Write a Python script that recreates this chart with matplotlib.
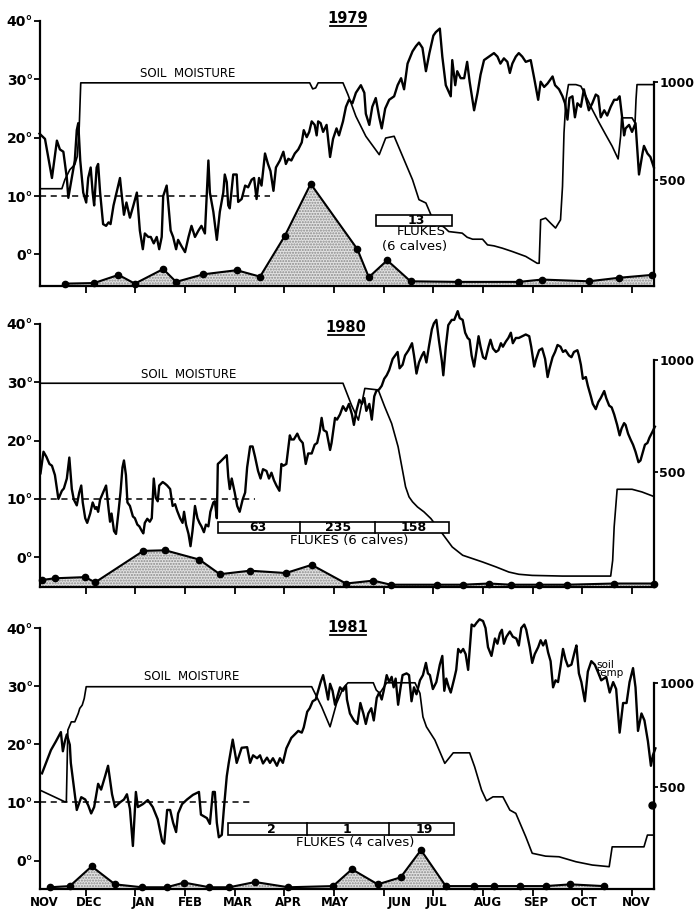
import matplotlib
matplotlib.use("Agg")
import matplotlib.pyplot as plt
from matplotlib.patches import Rectangle

# x axis unit: months after 1 Nov (1 = 1 Dec, ..., 12 = 1 Nov next year)
month_names = ["NOV", "DEC", "JAN", "FEB", "MAR", "APR", "MAY",
               "JUN", "JUL", "AUG", "SEP", "OCT", "NOV"]
month_label_pos = [0.16, 1.07, 2.16, 3.10, 4.07, 5.08, 6.02,
                   7.32, 8.06, 9.09, 10.06, 11.03, 12.09]

# ---------------- 1979 ----------------
t79_x = [0.07, 0.18, 0.32, 0.42, 0.48, 0.55, 0.62, 0.65, 0.72, 0.78,
         0.82, 0.85, 0.89, 0.95, 1.01, 1.05, 1.10, 1.14, 1.17, 1.22,
         1.25, 1.29, 1.35, 1.41, 1.46, 1.50, 1.56, 1.62, 1.69, 1.72,
         1.77, 1.82, 1.89, 1.96, 2.03, 2.09, 2.15, 2.19, 2.26, 2.31,
         2.37, 2.43, 2.48, 2.53, 2.56, 2.63, 2.66, 2.71, 2.76, 2.82,
         2.86, 2.93, 3.00, 3.07, 3.13, 3.20, 3.27, 3.33, 3.40, 3.47,
         3.50, 3.57, 3.64, 3.70, 3.77, 3.80, 3.84, 3.87, 3.90, 3.97,
         4.04, 4.07, 4.14, 4.21, 4.27, 4.34, 4.39, 4.44, 4.49, 4.54,
         4.61, 4.67, 4.72, 4.78, 4.83, 4.91, 4.98, 5.03, 5.08, 5.14,
         5.21, 5.28, 5.35, 5.39, 5.45, 5.50, 5.55, 5.61, 5.65, 5.68,
         5.73, 5.78, 5.85, 5.92, 5.98, 6.05, 6.10, 6.18,
         6.24, 6.30, 6.37, 6.44, 6.54, 6.61, 6.64, 6.71, 6.77, 6.84,
         6.91, 6.96, 7.03, 7.11, 7.21, 7.28, 7.35, 7.41, 7.48, 7.58,
         7.65, 7.71, 7.78, 7.85, 7.92, 8.00, 8.05, 8.13, 8.18, 8.25,
         8.35, 8.38, 8.44, 8.48, 8.55, 8.62, 8.68, 8.73, 8.82, 8.89,
         8.95, 9.02, 9.12, 9.22, 9.29, 9.35, 9.42, 9.49, 9.54, 9.59,
         9.66, 9.72, 9.79, 9.86, 9.96, 10.03, 10.11, 10.16, 10.23, 10.30,
         10.40, 10.45, 10.53, 10.60, 10.65, 10.70, 10.74, 10.80, 10.85, 10.90,
         10.97, 11.03, 11.08, 11.13, 11.20, 11.27, 11.32, 11.37, 11.44, 11.50,
         11.57, 11.64, 11.70, 11.75, 11.80, 11.84, 11.87, 11.94, 12.00, 12.07,
         12.14, 12.21, 12.24, 12.31, 12.37, 12.44]
t79_y = [20.7, 19.8, 13.1, 19.5, 18.0, 17.6, 13.1, 9.7, 13.1, 16.1,
         21.3, 22.5, 16.1, 10.6, 8.9, 13.1, 14.9, 10.6, 8.4, 14.9,
         15.5, 10.6, 5.2, 4.9, 5.5, 5.2, 8.4, 10.6, 13.1, 10.6,
         6.8, 8.9, 6.3, 8.4, 10.6, 4.1, 0.9, 3.6, 3.0, 3.0,
         1.9, 3.0, 0.9, 3.0, 10.0, 11.8, 9.0, 4.1, 3.0, 0.9,
         2.5, 1.4, 0.4, 3.0, 4.9, 3.0, 4.1, 4.9, 3.6, 16.1,
         10.6, 7.3, 2.5, 7.3, 10.6, 13.7, 12.4, 8.4, 7.9, 13.7,
         13.7, 9.0, 9.5, 11.8, 11.5, 12.8, 13.1, 9.5, 13.1, 11.8,
         17.3, 15.5, 14.3, 10.9, 14.9, 16.1, 17.6, 15.5, 16.4, 16.1,
         17.3, 18.0, 19.2, 21.3, 20.1, 21.0, 22.8, 22.2, 20.4, 22.8,
         22.5, 21.0, 22.2, 16.7, 19.8, 21.6, 20.4, 22.8,
         25.3, 26.5, 25.9, 27.7, 29.0, 27.7, 24.1, 22.2, 25.3, 26.8,
         23.5, 21.6, 25.0, 26.5, 27.1, 29.0, 30.2, 28.3, 32.7, 34.8,
         35.7, 36.3, 35.4, 31.4, 34.5, 37.5, 38.1, 38.7, 33.9, 29.0,
         27.1, 33.3, 29.0, 31.4, 30.2, 30.2, 33.0, 29.6, 24.7, 27.7,
         30.8, 33.3, 33.9, 34.5, 33.9, 32.7, 33.6, 33.0, 31.1, 32.7,
         33.9, 34.5, 33.9, 33.0, 33.3, 30.2, 26.5, 29.6, 28.7, 29.3,
         30.5, 29.0, 28.3, 27.1, 25.9, 23.1, 26.8, 27.1, 23.5, 25.9,
         25.3, 28.3, 26.5, 24.7, 25.9, 27.4, 27.1, 23.5, 24.7, 23.8,
         25.3, 26.5, 26.5, 27.1, 23.5, 20.4, 21.6, 22.2, 21.0, 22.5,
         13.7, 17.3, 18.6, 17.3, 16.7, 14.9]

m79_x = [0.07, 0.52, 0.58, 0.68, 0.78, 0.83, 0.87, 0.90, 5.51, 5.57,
         5.63, 5.68, 6.18, 6.28, 6.44, 6.64, 6.91, 7.04, 7.21, 7.41,
         7.58, 7.71, 7.85, 7.95, 8.31, 8.58, 8.68, 8.79, 8.99, 9.09,
         9.22, 9.39, 9.59, 9.86, 10.09, 10.13, 10.16, 10.26, 10.36, 10.46,
         10.56, 10.60, 10.63, 10.67, 10.72, 10.87, 10.97, 11.07, 11.20, 11.34,
         11.47, 11.60, 11.72, 11.77, 11.79, 12.00, 12.06, 12.08, 12.10, 12.44]
m79_y = [454, 454, 500, 551, 577, 619, 773, 995, 995, 964,
         969, 995, 995, 935, 824, 722, 628, 713, 722, 602,
         500, 398, 381, 321, 235, 227, 206, 196, 196, 167,
         162, 150, 133, 108, 73, 73, 295, 304, 278, 253,
         295, 466, 739, 910, 986, 986, 978, 927, 858, 790,
         730, 671, 606, 722, 816, 816, 790, 910, 986, 986]

f79_x = [0.58, 1.17, 1.66, 1.99, 2.56, 2.82, 3.37, 4.04, 4.51, 5.01, 5.53,
         6.47, 6.70, 7.07, 7.54, 8.50, 9.72, 10.19, 11.13, 11.73, 12.41]
f79_y = [-5.0, -4.9, -3.5, -5.0, -2.5, -4.7, -3.4, -2.7, -3.8, 3.2, 12.1,
         0.9, -3.9, -1.0, -4.6, -4.7, -4.7, -4.3, -4.6, -4.0, -3.5]

box79_span = (6.84, 8.38)
box79_div = []
box79_counts = ["13"]
box79_count_x = [7.65]

# ---------------- 1980 ----------------
t80_x = [0.09, 0.15, 0.21, 0.27, 0.32, 0.38, 0.45, 0.52, 0.56, 0.62,
         0.67, 0.72, 0.76, 0.82, 0.87, 0.91, 0.94, 0.99, 1.03, 1.09,
         1.14, 1.19, 1.22, 1.25, 1.29, 1.35, 1.41, 1.46, 1.49, 1.52,
         1.57, 1.61, 1.66, 1.70, 1.74, 1.77, 1.81, 1.84, 1.89, 1.95,
         1.99, 2.04, 2.08, 2.13, 2.16, 2.19, 2.24, 2.29, 2.33, 2.37,
         2.41, 2.45, 2.48, 2.55, 2.60, 2.64, 2.70, 2.75, 2.80, 2.84,
         2.90, 2.95, 2.98, 3.02, 3.07, 3.11, 3.15, 3.20, 3.25, 3.29,
         3.33, 3.38, 3.42, 3.47, 3.51, 3.57, 3.60, 3.64, 3.66, 3.70,
         3.77, 3.84, 3.87, 3.90, 3.94, 3.97, 4.00, 4.05, 4.10, 4.16,
         4.21, 4.25, 4.31, 4.36, 4.41, 4.47, 4.52, 4.57, 4.64, 4.69,
         4.74, 4.79, 4.84, 4.90, 4.94, 4.98, 5.04, 5.11, 5.14, 5.19,
         5.26, 5.31, 5.37, 5.43, 5.48, 5.55, 5.61, 5.66, 5.71, 5.75,
         5.79, 5.85, 5.92, 5.95, 6.02, 6.06, 6.12, 6.18,
         6.24, 6.30, 6.36, 6.40, 6.45, 6.51, 6.56, 6.61, 6.65, 6.71,
         6.76, 6.81, 6.85, 6.91, 6.96, 7.01, 7.06, 7.11, 7.18, 7.23,
         7.28, 7.32, 7.38, 7.43, 7.50, 7.57, 7.61, 7.66, 7.71, 7.77,
         7.81, 7.86, 7.91, 7.97, 8.01, 8.06, 8.11, 8.17, 8.20, 8.25,
         8.30, 8.37, 8.42, 8.49, 8.53, 8.59, 8.64, 8.69, 8.73, 8.77,
         8.82, 8.87, 8.91, 8.95, 9.00, 9.05, 9.11, 9.15, 9.20, 9.26,
         9.31, 9.36, 9.40, 9.46, 9.51, 9.56, 9.60, 9.66, 9.72, 9.79,
         9.86, 9.93, 9.97, 10.03, 10.07, 10.13, 10.19, 10.25, 10.30, 10.34,
         10.40, 10.45, 10.50, 10.56, 10.61, 10.66, 10.73, 10.78, 10.83, 10.90,
         10.93, 10.97, 11.01, 11.07, 11.11, 11.17, 11.21, 11.27, 11.32, 11.37,
         11.44, 11.48, 11.54, 11.59, 11.64, 11.70, 11.75, 11.79, 11.84, 11.87,
         11.92, 11.97, 12.02, 12.07, 12.13, 12.17, 12.22, 12.26, 12.31, 12.35,
         12.41, 12.46]
t80_y = [14.4, 18.1, 17.2, 16.0, 15.7, 14.1, 10.0, 11.4, 11.8, 13.5,
         17.1, 11.7, 9.9, 8.9, 11.1, 12.3, 9.4, 6.7, 5.9, 7.5,
         9.4, 8.3, 8.6, 7.8, 9.9, 11.1, 12.3, 8.3, 6.1, 7.5,
         4.5, 4.0, 7.8, 11.1, 15.4, 16.6, 14.1, 9.4, 8.8, 7.0,
         6.7, 5.6, 5.3, 4.5, 4.1, 5.9, 6.6, 6.1, 6.7, 13.5,
         10.2, 9.6, 12.3, 12.9, 12.6, 12.3, 11.7, 8.8, 9.1, 8.0,
         6.7, 5.9, 7.8, 5.6, 4.0, 1.9, 4.5, 8.8, 6.7, 5.9,
         5.3, 4.3, 5.6, 5.3, 7.8, 9.4, 9.6, 6.7, 16.0, 16.3,
         16.9, 17.5, 13.8, 11.7, 13.5, 12.3, 11.1, 8.8, 7.8, 9.9,
         11.1, 15.4, 19.0, 19.0, 17.2, 14.8, 13.5, 15.1, 14.8, 13.5,
         14.5, 13.2, 12.3, 11.4, 16.0, 15.7, 16.0, 20.9, 20.2, 20.2,
         21.2, 20.2, 19.6, 16.0, 17.8, 17.8, 19.3, 19.6, 21.5, 23.9,
         21.8, 21.5, 18.4, 19.6, 23.9, 23.6, 24.5, 25.9,
         25.1, 26.3, 24.5, 22.7, 25.1, 27.0, 26.3, 27.3, 25.1, 26.3,
         23.6, 27.6, 28.5, 28.8, 29.4, 30.6, 31.2, 32.1, 34.0, 34.6,
         35.2, 32.4, 33.0, 34.6, 35.5, 36.7, 34.6, 31.5, 33.4, 34.6,
         35.2, 33.4, 36.1, 39.1, 40.1, 40.7, 37.3, 33.7, 31.2, 36.1,
         39.8, 40.7, 40.7, 42.2, 41.0, 40.7, 38.5, 37.6, 37.3, 34.6,
         32.7, 35.5, 37.9, 36.1, 34.3, 34.0, 36.1, 37.3, 35.8, 35.2,
         35.5, 36.7, 36.1, 37.0, 37.6, 38.5, 36.7, 37.6, 37.6, 37.9,
         38.2, 37.9, 36.1, 32.7, 34.0, 35.5, 35.8, 34.0, 30.9, 32.4,
         34.3, 35.2, 36.4, 36.1, 35.2, 35.5, 34.6, 34.3, 35.2, 35.5,
         34.6, 33.0, 30.6, 30.9, 29.4, 27.6, 26.3, 25.4, 26.6, 27.3,
         28.5, 27.3, 26.0, 25.7, 24.5, 22.7, 20.9, 22.1, 23.0, 22.7,
         21.2, 20.2, 19.3, 18.1, 16.3, 16.6, 18.1, 19.3, 19.6, 20.5,
         21.5, 22.4]

m80_x = [0.09, 6.18, 6.35, 6.49, 6.62, 6.89, 7.02, 7.16, 7.29, 7.39,
         7.44, 7.51, 7.58, 7.68, 7.81, 7.95, 8.18, 8.38, 8.59, 8.79,
         8.99, 9.26, 9.52, 9.72, 9.99, 10.60, 11.57, 11.61, 11.64, 11.70,
         12.00, 12.20, 12.46]
m80_y = [896, 896, 799, 731, 873, 866, 791, 716, 612, 493,
         433, 388, 366, 343, 321, 291, 224, 164, 127, 112,
         97, 75, 52, 42, 37, 34, 34, 104, 254, 422,
         422, 410, 388]

f80_x = [0.11, 0.38, 0.99, 1.19, 2.16, 2.60, 3.29, 3.70, 4.31, 5.03, 5.55,
         6.24, 6.79, 7.14, 8.08, 8.59, 9.12, 9.56, 10.13, 10.70, 11.64, 12.44]
f80_y = [-3.9, -3.6, -3.4, -4.3, 1.1, 1.2, -0.4, -2.9, -2.3, -2.7, -1.3,
         -4.5, -4.0, -4.7, -4.7, -4.7, -4.5, -4.7, -4.7, -4.7, -4.5, -4.5]

box80_span = (3.66, 8.31)
box80_div = [5.31, 6.82]
box80_counts = ["63", "235", "158"]
box80_count_x = [4.47, 6.08, 7.61]

# ---------------- 1981 ----------------
t81_x = [0.12, 0.30, 0.40, 0.50, 0.54, 0.58, 0.62, 0.68, 0.70, 0.78,
         0.82, 0.91, 0.99, 1.05, 1.11, 1.17, 1.25, 1.31, 1.39, 1.45,
         1.53, 1.59, 1.69, 1.77, 1.83, 1.89, 1.95, 2.01, 2.05, 2.15,
         2.25, 2.35, 2.45, 2.54, 2.58, 2.64, 2.70, 2.76, 2.82, 2.86,
         2.94, 3.04, 3.16, 3.28, 3.32, 3.44, 3.50, 3.56, 3.60, 3.64,
         3.68, 3.74, 3.78, 3.84, 3.88, 3.96, 4.04, 4.14, 4.25, 4.31,
         4.37, 4.45, 4.51, 4.57, 4.65, 4.71, 4.77, 4.85, 4.91, 4.97,
         5.04, 5.14, 5.21, 5.28, 5.35, 5.39, 5.46, 5.51, 5.57, 5.63,
         5.68, 5.73, 5.78, 5.84, 5.88, 5.92, 5.97, 6.02, 6.06, 6.12,
         6.18, 6.24, 6.26, 6.32, 6.40, 6.47, 6.53, 6.59, 6.64, 6.69,
         6.75, 6.80, 6.86, 6.91, 6.96, 7.00, 7.06, 7.11, 7.16, 7.20,
         7.24, 7.29, 7.34, 7.38, 7.46, 7.51, 7.56, 7.61, 7.66, 7.73,
         7.79, 7.85, 7.89, 7.93, 7.99, 8.06, 8.13, 8.18, 8.22, 8.26,
         8.31, 8.35, 8.42, 8.46, 8.50, 8.55, 8.60, 8.65, 8.70, 8.77,
         8.82, 8.87, 8.93, 9.00, 9.05, 9.10, 9.17, 9.24, 9.29, 9.34,
         9.38, 9.42, 9.47, 9.54, 9.60, 9.67, 9.72, 9.77, 9.83, 9.87,
         9.94, 9.99, 10.04, 10.11, 10.16, 10.21, 10.26, 10.31, 10.36, 10.41,
         10.46, 10.51, 10.56, 10.61, 10.66, 10.71, 10.78, 10.85, 10.88, 10.93,
         10.98, 11.05, 11.11, 11.18, 11.25, 11.31, 11.38, 11.48, 11.55, 11.62,
         11.68, 11.75, 11.82, 11.89, 11.95, 12.02, 12.07, 12.12, 12.19, 12.25,
         12.32, 12.38, 12.42, 12.47]
t81_y = [15.0, 19.0, 20.5, 22.1, 18.8, 20.5, 21.7, 19.9, 16.8, 11.4,
         8.7, 10.9, 10.5, 9.5, 8.1, 9.2, 13.2, 12.2, 14.5, 16.3,
         11.4, 9.2, 10.0, 10.5, 11.4, 8.9, 2.5, 11.8, 9.2, 9.7,
         10.4, 9.2, 7.1, 3.3, 2.9, 8.7, 8.7, 6.5, 4.9, 8.1,
         9.7, 10.5, 11.3, 11.8, 7.9, 7.3, 6.3, 11.8, 11.8, 6.5,
         4.0, 4.4, 8.7, 14.5, 16.8, 20.8, 16.8, 19.4, 19.5, 16.8,
         18.1, 17.6, 18.1, 16.7, 17.7, 16.8, 17.6, 16.3, 17.6, 16.8,
         19.3, 21.1, 21.7, 22.3, 22.0, 22.9, 25.6, 26.2, 27.4, 27.7,
         29.2, 30.7, 31.9, 29.5, 27.7, 30.4, 29.2, 26.8, 28.0, 29.8,
         29.2, 30.1, 27.7, 25.3, 24.1, 23.5, 27.1, 25.3, 23.5, 25.3,
         26.2, 24.1, 28.0, 28.9, 27.7, 29.2, 31.9, 30.7, 31.6, 29.8,
         31.3, 26.8, 29.8, 31.9, 32.2, 31.9, 27.4, 29.8, 28.6, 31.0,
         31.9, 34.0, 32.2, 31.9, 29.5, 30.7, 33.7, 35.2, 29.2, 31.3,
         29.8, 28.9, 31.3, 32.8, 36.4, 35.8, 36.4, 35.5, 32.8, 40.6,
         40.3, 40.9, 41.5, 41.2, 40.0, 36.7, 35.2, 38.2, 37.3, 39.1,
         39.7, 37.3, 38.5, 39.4, 38.5, 38.2, 37.0, 40.0, 40.6, 39.7,
         36.7, 34.0, 35.5, 36.7, 37.9, 37.0, 37.9, 35.8, 34.3, 29.8,
         31.0, 30.7, 33.4, 36.4, 34.6, 33.4, 33.7, 36.1, 37.0, 32.2,
         30.7, 27.4, 32.5, 34.3, 33.7, 32.5, 31.0, 31.6, 28.9, 30.7,
         29.5, 22.0, 27.1, 27.1, 30.7, 33.1, 29.8, 22.3, 25.3, 24.1,
         20.5, 16.3, 18.1, 19.3]

m81_x = [0.11, 0.58, 0.61, 0.64, 0.71, 0.78, 0.85, 0.88, 0.93, 0.97,
         1.01, 5.55, 5.75, 5.92, 6.05, 6.18, 6.28, 6.79, 6.85, 6.92,
         7.06, 7.63, 7.73, 7.79, 7.86, 8.03, 8.23, 8.40, 8.73, 8.83,
         8.97, 9.07, 9.20, 9.40, 9.54, 9.66, 9.86, 9.99, 10.26, 10.53,
         10.87, 11.20, 11.54, 11.60, 11.97, 12.24, 12.31, 12.44]
m81_y = [480, 427, 427, 774, 814, 814, 855, 879, 895, 927,
         984, 984, 887, 790, 903, 976, 1003, 1003, 968, 952,
         1003, 1003, 952, 838, 790, 726, 613, 664, 664, 597,
         484, 432, 451, 451, 387, 371, 258, 178, 164, 161,
         137, 121, 113, 209, 209, 209, 266, 266]

f81_x = [0.28, 0.68, 1.12, 1.59, 2.13, 2.63, 2.98, 3.49, 3.89, 4.41, 5.08,
         5.98, 6.36, 6.88, 7.34, 7.75, 8.25, 8.82, 9.22, 9.74, 10.26, 10.76, 11.43]
f81_y = [-4.6, -4.4, -1.0, -4.1, -4.6, -4.6, -3.8, -4.6, -4.6, -3.7, -4.6,
         -4.4, -1.5, -4.1, -2.9, 1.8, -4.4, -4.4, -4.4, -4.4, -4.4, -4.1, -4.4]
f81_extra = (12.41, 9.5)

box81_span = (3.87, 8.42)
box81_div = [5.45, 7.11]
box81_counts = ["2", "1", "19"]
box81_count_x = [4.74, 6.26, 7.81]


def draw_year(fig, rect, year, ylo, rlim, temp, moist, flukes, box,
              dash_end, title_pos, soil_pos, box_y, fl_text, months=False):
    ax = fig.add_axes(rect)
    ax2 = ax.twinx()
    ax.set_zorder(ax2.get_zorder() + 1)
    ax.patch.set_visible(False)

    ax.set_xlim(0.08, 12.44)
    ax.set_ylim(ylo, 40)
    ax2.set_ylim(*rlim)

    # soil moisture on the right-hand scale
    ax2.plot(moist[0], moist[1], color="k", lw=1.2)

    # soil temperature and the 10 degree reference
    ax.plot(temp[0], temp[1], color="k", lw=1.7, clip_on=False, zorder=3)
    ax.plot([0.08, dash_end], [10, 10], color="k", lw=1.1,
            ls=(0, (4, 3)), zorder=2)

    # flukes counted per sample
    fx, fy = flukes
    ax.fill_between(fx, fy, ylo, facecolor="#e2e2e2", edgecolor="#8a8a8a",
                    hatch="......", lw=0, zorder=1)
    ax.plot(fx, fy, "k-o", lw=1.5, ms=4.5, clip_on=False, zorder=4)

    # fluke sample bar
    (x0, x1), divs, labels, lab_x = box
    y0, y1 = box_y
    ax.add_patch(Rectangle((x0, y0), x1 - x0, y1 - y0, facecolor="white",
                           edgecolor="k", lw=1.2, zorder=5))
    for d in divs:
        ax.plot([d, d], [y0, y1], color="k", lw=1.2, zorder=6)
    for s, lx in zip(labels, lab_x):
        ax.text(lx, (y0 + y1) / 2, s, ha="center", va="center",
                fontsize=9, fontweight="bold", zorder=7)
    for s, tx, ty in fl_text:
        ax.text(tx, ty, s, ha="center", va="center", fontsize=9.5, zorder=7)

    # underlined year
    tx, ty, uy = title_pos
    ax.text(tx, ty, year, ha="center", va="baseline", fontsize=10.5,
            fontweight="bold")
    ax.plot([tx - 0.37, tx + 0.37], [uy, uy], color="k", lw=1.3,
            clip_on=False)

    ax.text(soil_pos[0], soil_pos[1], "SOIL  MOISTURE", ha="center",
            va="bottom", fontsize=8.5)

    # axes styling
    for side in ["top", "right"]:
        ax.spines[side].set_visible(False)
    for side in ["top", "left", "bottom"]:
        ax2.spines[side].set_visible(False)
    ax.spines["left"].set_bounds(ylo, 40)
    ax.spines["left"].set_linewidth(1.6)
    ax.spines["bottom"].set_linewidth(1.6)
    ax2.spines["right"].set_bounds(rlim[0], 1000)
    ax2.spines["right"].set_linewidth(1.6)

    ax.set_yticks([0, 10, 20, 30, 40])
    ax.set_yticklabels(["0°", "10°", "20°", "30°", "40°"],
                       fontsize=10, fontweight="bold")
    ax.tick_params(axis="y", direction="out", length=4, width=1.3, pad=1)
    ax.set_xticks(range(1, 13))
    ax.set_xticklabels([])
    ax.tick_params(axis="x", direction="out", length=5, width=1.3)
    ax2.set_yticks([500, 1000])
    ax2.set_yticklabels(["500", "1000"], fontsize=9, fontweight="bold")
    ax2.tick_params(axis="y", direction="out", length=3, width=1.3, pad=1)

    if months:
        for name, pos in zip(month_names, month_label_pos):
            ax.text(pos, -0.05, name, transform=ax.get_xaxis_transform(),
                    ha="center", va="center", fontsize=8.5, fontweight="bold")
    return ax


fig = plt.figure(figsize=(6.96, 9.09), dpi=100)

draw_year(fig, [0.0575, 0.6854, 0.882, 0.2915], "1979", -5.4, (-43, 1311),
          (t79_x, t79_y), (m79_x, m79_y), (f79_x, f79_y),
          (box79_span, box79_div, box79_counts, box79_count_x),
          4.71, (6.28, 39.66, 39.2), (3.05, 29.9), (4.9, 6.8),
          [("FLUKES", 7.75, 3.9), ("(6 calves)", 7.63, 1.3)])

draw_year(fig, [0.0575, 0.3542, 0.882, 0.2894], "1980", -5.1, (-15, 1161),
          (t80_x, t80_y), (m80_x, m80_y), (f80_x, f80_y),
          (box80_span, box80_div, box80_counts, box80_count_x),
          4.41, (6.24, 38.6, 38.1), (3.07, 30.2), (4.16, 6.05),
          [("FLUKES (6 calves)", 6.30, 2.84)])

ax3 = draw_year(fig, [0.0575, 0.0220, 0.882, 0.2871], "1981", -4.9, (5, 1268),
                (t81_x, t81_y), (m81_x, m81_y), (f81_x, f81_y),
                (box81_span, box81_div, box81_counts, box81_count_x),
                4.37, (6.28, 39.3, 38.8), (3.14, 30.5), (4.39, 6.4),
                [("FLUKES (4 calves)", 6.43, 3.07)], months=True)
ax3.plot([f81_extra[0]], [f81_extra[1]], "ko", ms=5, clip_on=False, zorder=4)
ax3.text(11.29, 32.9, "soil\ntemp", ha="left", va="center", fontsize=7.5,
         linespacing=0.8)

fig.savefig("out.png", dpi=100)
